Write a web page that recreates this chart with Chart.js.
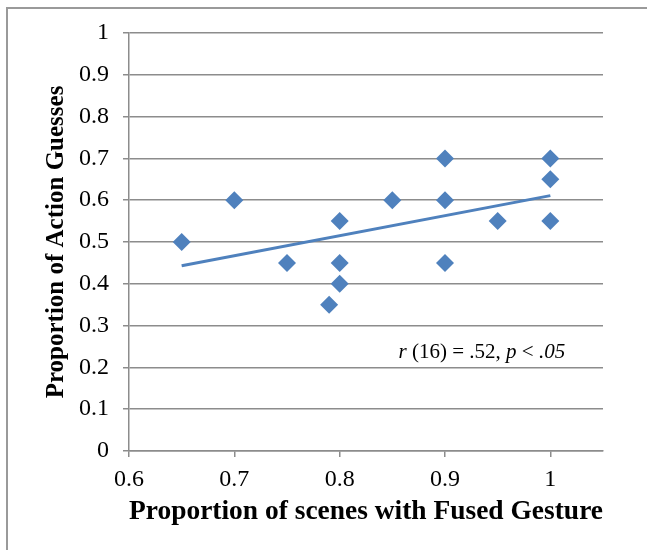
<!DOCTYPE html>
<html>
<head>
<meta charset="utf-8">
<script src="https://cdn.jsdelivr.net/npm/chart.js@4.4.1/dist/chart.umd.min.js"></script>
<style>
  html, body { margin: 0; padding: 0; background: #fff; }
  #wrap { position: relative; width: 647px; height: 550px; }
  #frame {
    position: absolute; left: 6px; top: 7px; right: 0; bottom: 0;
    border-left: 2px solid #9a9a9a; border-top: 2px solid #9a9a9a;
    pointer-events: none;
  }
</style>
</head>
<body>
<div id="wrap">
  <canvas id="chart" width="647" height="550"></canvas>
  <div id="frame"></div>
</div>
<script>
// Data
const fusedGesture = [0.65, 0.70, 0.75, 0.79, 0.80, 0.80, 0.80, 0.85, 0.90, 0.90, 0.90, 0.95, 1.00, 1.00, 1.00];
const actionGuesses = [0.50, 0.60, 0.45, 0.35, 0.55, 0.45, 0.40, 0.60, 0.70, 0.60, 0.45, 0.55, 0.70, 0.65, 0.55];

// Linear trendline end points (as drawn)
const trendX = [0.65, 1.0];
const trendY = [0.443, 0.611];

const xTitle = 'Proportion of scenes with Fused Gesture';
const yTitle = 'Proportion of Action Guesses';

// Correlation note, placed in data units
const noteParts = [
  ['r', true], [' (16) = .52, ', false], ['p', true], [' < ', false], ['.05', true]
];
const notePos = { x: 0.935, y: 0.235 };

const blue = '#4F81BD';
const gridGray = '#8c8c8c';
const serif = '"Liberation Serif", "Times New Roman", serif';

const points = fusedGesture.map((x, i) => ({ x: x, y: actionGuesses[i] }));
const trend = trendX.map((x, i) => ({ x: x, y: trendY[i] }));

const notePlugin = {
  id: 'note',
  afterDatasetsDraw(chart) {
    const ctx = chart.ctx;
    const xs = chart.scales.x, ys = chart.scales.y;
    ctx.save();
    ctx.fillStyle = '#000';
    ctx.textBaseline = 'middle';
    let total = 0;
    noteParts.forEach(([t, it]) => {
      ctx.font = (it ? 'italic ' : '') + '21px ' + serif;
      total += ctx.measureText(t).width;
    });
    let x = xs.getPixelForValue(notePos.x) - total / 2;
    const y = ys.getPixelForValue(notePos.y);
    noteParts.forEach(([t, it]) => {
      ctx.font = (it ? 'italic ' : '') + '21px ' + serif;
      ctx.fillText(t, x, y);
      x += ctx.measureText(t).width;
    });
    ctx.restore();
  }
};

const fmt = v => String(Number(v.toFixed(2)));

new Chart(document.getElementById('chart'), {
  type: 'scatter',
  data: {
    datasets: [
      {
        data: trend,
        type: 'line',
        showLine: true,
        borderColor: blue,
        borderWidth: 3,
        pointRadius: 0,
        fill: false
      },
      {
        data: points,
        pointStyle: 'rectRot',
        pointRadius: 9,
        pointHoverRadius: 9,
        backgroundColor: blue,
        borderColor: blue,
        borderWidth: 0
      }
    ]
  },
  options: {
    responsive: false,
    animation: false,
    events: [],
    layout: { padding: { left: 0, top: 33, right: 44, bottom: 0 } },
    plugins: { legend: { display: false }, tooltip: { enabled: false } },
    scales: {
      x: {
        type: 'linear',
        min: 0.6,
        max: 1.05,
        afterFit: s => { s.height = 99; },
        ticks: {
          stepSize: 0.1,
          includeBounds: false,
          maxRotation: 0,
          padding: 8,
          color: '#000',
          font: { family: serif, size: 24 },
          callback: v => fmt(v)
        },
        grid: { drawOnChartArea: false, drawTicks: true, tickLength: 6, color: gridGray, lineWidth: 1.5 },
        border: { display: true, color: gridGray, width: 1.5 },
        title: {
          display: true,
          text: xTitle,
          color: '#000',
          font: { family: serif, size: 27.5, weight: 'bold' },
          padding: { top: 0, bottom: 22 }
        }
      },
      y: {
        min: 0,
        max: 1,
        afterFit: s => { s.width = 129; },
        ticks: {
          stepSize: 0.1,
          padding: 14,
          color: '#000',
          font: { family: serif, size: 24 },
          callback: v => fmt(v)
        },
        grid: { drawTicks: true, tickLength: 6, color: gridGray, lineWidth: 1.5 },
        border: { display: true, color: gridGray, width: 1.5 },
        title: {
          display: true,
          text: yTitle,
          color: '#000',
          font: { family: serif, size: 25, weight: 'bold' },
          padding: { top: 42, bottom: 0 }
        }
      }
    }
  },
  plugins: [notePlugin]
});
</script>
</body>
</html>
